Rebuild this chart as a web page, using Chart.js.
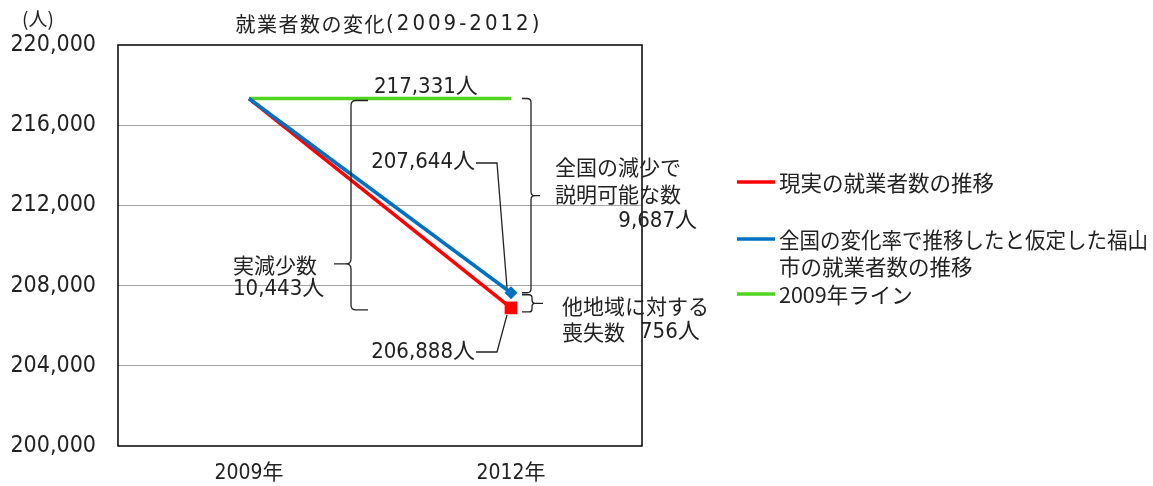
<!DOCTYPE html>
<html lang="ja">
<head>
<meta charset="utf-8">
<title>就業者数の変化</title>
<script src="https://cdn.jsdelivr.net/npm/chart.js@4"></script>
<style>
  html, body { margin: 0; padding: 0; background: #fff; }
  #wrap { width: 1153px; height: 486px; }
</style>
</head>
<body>
<div id="wrap"><canvas id="mygraph" width="1153" height="486"></canvas></div>
<script>
// データ（人）
const YEARS = ["2009年", "2012年"];
const ACTUAL = [217331, 206888];      // 現実の就業者数
const NATIONAL = [217331, 207644];    // 全国の変化率で推移した場合
const LINE_2009 = [217331, 217331];   // 2009年ライン
const SERIES_NAMES = [
  "現実の就業者数の推移",
  "全国の変化率で推移したと仮定した福山市の就業者数の推移",
  "2009年ライン"
];
// 凡例は2行目で折り返す
const LEGEND_LINES = [
  ["現実の就業者数の推移"],
  ["全国の変化率で推移したと仮定した福山", "市の就業者数の推移"],
  ["2009年ライン"]
];
const Y_MIN = 200000, Y_MAX = 220000, Y_STEP = 4000;
const TITLE = ["就業者数の変化", "(2009-2012)"];
const UNIT = "(人)";

const RED = "#ff0000", BLUE = "#0070c0", GREEN = "#4fd51f";
const INK = "#222";
const FONT = "'DejaVu Sans Condensed', 'Noto Sans CJK JP', sans-serif";
const JFONT = "'Noto Sans CJK JP', sans-serif";

const fmt = v => v.toLocaleString("en-US");

function text(ctx, s, x, y, size, align, family, maxW) {
  ctx.font = size + "px " + (family || FONT);
  ctx.textAlign = align || "left";
  ctx.textBaseline = "middle";
  ctx.fillStyle = INK;
  if (maxW) ctx.fillText(s, x, y, maxW);
  else ctx.fillText(s, x, y);
}

// 波括弧: xTip=先端, xSpine=縦線, xNub=中央の突起
function brace(ctx, xTip, xSpine, xNub, yTop, yBot, yNub, r) {
  const d = Math.sign(xSpine - xTip);
  ctx.beginPath();
  ctx.moveTo(xTip, yTop);
  ctx.lineTo(xSpine - d * r, yTop);
  ctx.quadraticCurveTo(xSpine, yTop, xSpine, yTop + r);
  ctx.lineTo(xSpine, yNub - r);
  ctx.quadraticCurveTo(xSpine, yNub, xSpine + d * r, yNub);
  ctx.lineTo(xNub, yNub);
  ctx.moveTo(xSpine + d * r, yNub);
  ctx.quadraticCurveTo(xSpine, yNub, xSpine, yNub + r);
  ctx.lineTo(xSpine, yBot - r);
  ctx.quadraticCurveTo(xSpine, yBot, xSpine - d * r, yBot);
  ctx.lineTo(xTip, yBot);
  ctx.stroke();
}

function polyline(ctx, pts) {
  ctx.beginPath();
  ctx.moveTo(pts[0][0], pts[0][1]);
  for (let i = 1; i < pts.length; i++) ctx.lineTo(pts[i][0], pts[i][1]);
  ctx.stroke();
}

// タイトル: 漢字部分と数字部分で字間を変える
function drawTitle(ctx, cx, cy) {
  const parts = [
    { s: TITLE[0], font: "20px " + JFONT, sp: 1.5 },
    { s: TITLE[1], font: "22px " + FONT, sp: 3 }
  ];
  let total = 0;
  parts.forEach(p => {
    ctx.font = p.font;
    ctx.letterSpacing = p.sp + "px";
    p.w = ctx.measureText(p.s).width;
    total += p.w;
  });
  let x = cx - total / 2;
  ctx.textAlign = "left";
  ctx.textBaseline = "middle";
  ctx.fillStyle = INK;
  parts.forEach(p => {
    ctx.font = p.font;
    ctx.letterSpacing = p.sp + "px";
    ctx.fillText(p.s, x, cy);
    x += p.w;
  });
  ctx.letterSpacing = "0px";
}

const decor = {
  id: "decor",
  beforeDraw(chart) {
    const ctx = chart.ctx;
    ctx.save();
    ctx.fillStyle = "#fff";
    ctx.fillRect(0, 0, chart.width, chart.height);
    ctx.restore();
  },
  afterDraw(chart) {
    const { ctx, chartArea: a, scales: { x, y } } = chart;
    ctx.save();

    // 枠
    ctx.strokeStyle = "#000";
    ctx.lineWidth = 1.5;
    ctx.strokeRect(a.left, a.top, a.right - a.left, a.bottom - a.top);

    // タイトル・単位
    drawTitle(ctx, (a.left + a.right) / 2 + 9, 24);
    text(ctx, UNIT, 38, 19, 19, "center", JFONT);

    // 凡例
    const colors = [RED, BLUE, GREEN];
    const rows = [182, 239, 294];
    LEGEND_LINES.forEach((lines, i) => {
      ctx.strokeStyle = colors[i];
      ctx.lineWidth = 3.5;
      polyline(ctx, [[737, rows[i]], [775, rows[i]]]);
      lines.forEach((s, j) => text(ctx, s, 779, rows[i] + 1 + j * 27, 21.5, "left", JFONT, chart.width - 784));
    });

    // 注記
    const x0 = x.getPixelForValue(0), x1 = x.getPixelForValue(1);
    const yStart = y.getPixelForValue(LINE_2009[1]);
    const yAct = y.getPixelForValue(ACTUAL[1]);
    const yNat = y.getPixelForValue(NATIONAL[1]);
    const decline = ACTUAL[0] - ACTUAL[1];
    const explained = NATIONAL[0] - NATIONAL[1];
    const lost = NATIONAL[1] - ACTUAL[1];

    text(ctx, fmt(LINE_2009[1]) + "人", x0 + 125, yStart - 11, 22);

    ctx.strokeStyle = "#222";
    ctx.lineWidth = 1.3;
    // 実減少数
    brace(ctx, x0 + 119, x0 + 102, x0 + 85, yStart + 2, yAct + 2, yAct - 44, 5);
    text(ctx, "実減少数", x0 - 16, yAct - 43, 21, "left", JFONT);
    text(ctx, fmt(decline) + "人", x0 - 16, yAct - 19, 22);

    // 全国の減少で説明可能な数
    brace(ctx, x1 + 11, x1 + 20, x1 + 29, yStart, yNat, (yStart + yNat) / 2, 4);
    text(ctx, "全国の減少で", x1 + 44, 167, 21, "left", JFONT);
    text(ctx, "説明可能な数", x1 + 44, 194, 21, "left", JFONT);
    text(ctx, fmt(explained) + "人", x1 + 186, 221, 22, "right");

    // 他地域に対する喪失数
    brace(ctx, x1 + 11, x1 + 21, x1 + 32, yNat + 2, yAct + 4, (yNat + yAct) / 2 + 3, 3);
    text(ctx, "他地域に対する", x1 + 51, yAct - 2, 21, "left", JFONT);
    text(ctx, "喪失数", x1 + 51, yAct + 24, 21, "left", JFONT);
    text(ctx, fmt(lost) + "人", x1 + 129, yAct + 24, 22);

    // 値ラベルと引出線
    text(ctx, fmt(NATIONAL[1]) + "人", x1 - 36, 162, 22, "right");
    polyline(ctx, [[x1 - 35, 163], [x1 - 14, 163], [x1 - 4, yNat - 5]]);
    text(ctx, fmt(ACTUAL[1]) + "人", x1 - 36, 352, 22, "right");
    polyline(ctx, [[x1 - 35, 352], [x1 - 14, 352], [x1 - 4, yAct + 7]]);

    ctx.restore();
  }
};

new Chart(document.getElementById("mygraph"), {
  type: "line",
  data: {
    labels: YEARS,
    datasets: [
      {
        label: SERIES_NAMES[0],
        data: ACTUAL,
        borderColor: RED,
        backgroundColor: RED,
        borderWidth: 3.5,
        pointStyle: "rect",
        pointRadius: [0, 9],
        pointBorderWidth: 0,
        order: 2
      },
      {
        label: SERIES_NAMES[1],
        data: NATIONAL,
        borderColor: BLUE,
        backgroundColor: BLUE,
        borderWidth: 3.5,
        pointStyle: "rectRot",
        pointRadius: [0, 6.5],
        pointBorderWidth: 0,
        order: 1
      },
      {
        label: SERIES_NAMES[2],
        data: LINE_2009,
        borderColor: GREEN,
        backgroundColor: GREEN,
        borderWidth: 3.5,
        pointRadius: 0,
        order: 3
      }
    ]
  },
  options: {
    responsive: false,
    animation: false,
    devicePixelRatio: 1,
    layout: { padding: { top: 45, right: 511, left: 0, bottom: 0 } },
    plugins: {
      legend: { display: false },
      title: { display: false },
      tooltip: { enabled: false }
    },
    scales: {
      x: {
        offset: true,
        grid: { display: false },
        border: { display: false },
        ticks: { color: INK, padding: 7, font: { family: FONT, size: 21 } },
        afterFit(s) { s.height = 40; }
      },
      y: {
        min: Y_MIN,
        max: Y_MAX,
        border: { display: false },
        grid: {
          drawTicks: false,
          lineWidth: 1,
          color: c => (c.tick && (c.tick.value === Y_MIN || c.tick.value === Y_MAX)) ? "rgba(0,0,0,0)" : "#a6a6a6"
        },
        ticks: {
          stepSize: Y_STEP,
          color: INK,
          padding: 22,
          font: { family: FONT, size: 23 },
          callback: v => fmt(v)
        },
        afterFit(s) { s.width = 118; }
      }
    }
  },
  plugins: [decor]
});
</script>
</body>
</html>
